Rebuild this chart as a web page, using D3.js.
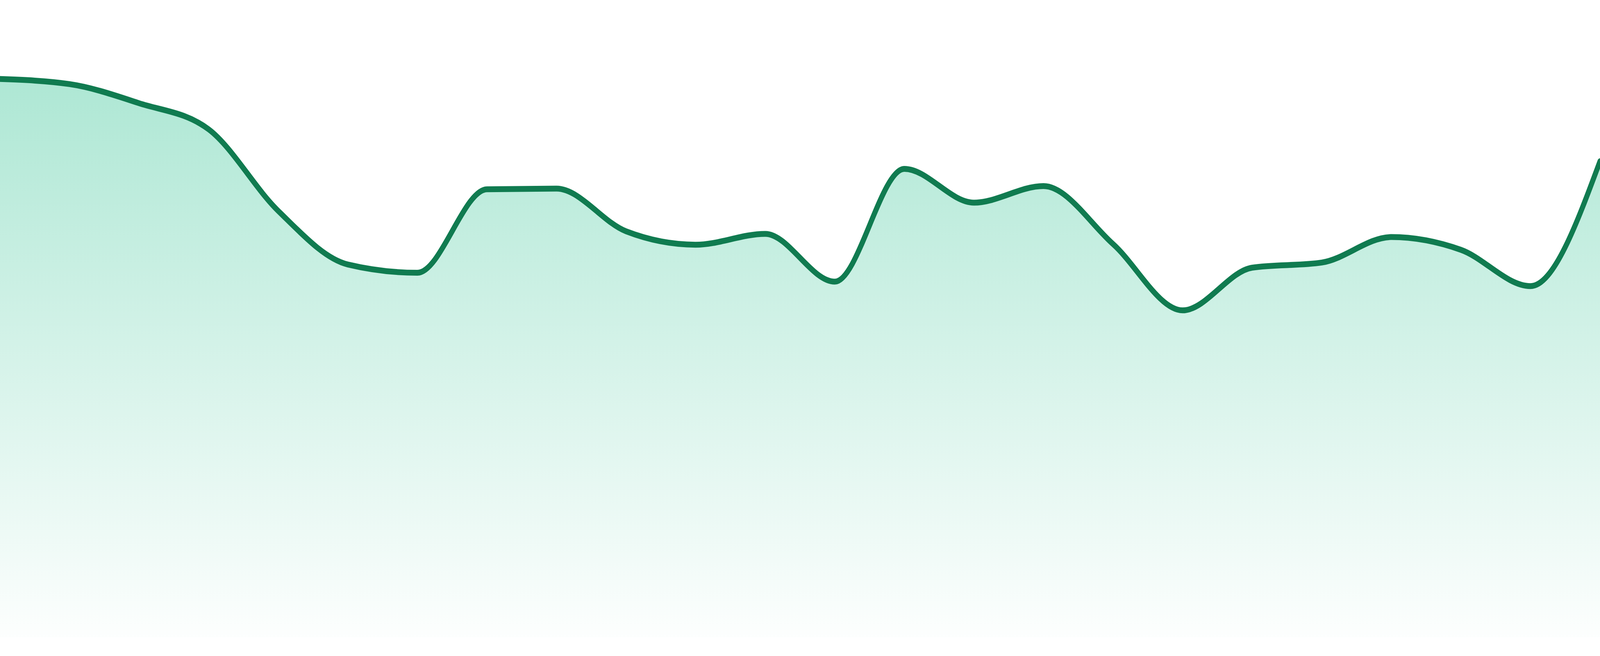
<!DOCTYPE html>
<html>
<head>
<meta charset="utf-8">
<script src="https://cdn.jsdelivr.net/npm/d3@7"></script>
<style>
  html, body { margin: 0; padding: 0; width: 100%; height: 100%; overflow: hidden; background: #fff; }
  svg { display: block; width: 100vw; height: 100vh; }
</style>
</head>
<body>
<svg id="chart"></svg>
<script>
// one reading per step, left to right
const steps = d3.range(24);
const values = [
  87.6, 86.8, 83.8, 79.7, 66.9, 58.5, 57.2, 70.3,
  70.4, 63.7, 61.6, 63.3, 55.8, 73.5, 68.2, 70.8,
  61.7, 51.3, 58.0, 58.8, 62.8, 60.8, 55.1, 74.7
];
const yDomain = [0, 100];

// drawing space, stretched over the whole window
const width = 4800,
      height = 1680;

const svg = d3.select("#chart")
    .attr("viewBox", [0, 0, width, height])
    .attr("preserveAspectRatio", "none");

const margin = { top: 0, right: 0, bottom: 48, left: 0 };

const x = d3.scaleLinear()
    .domain(d3.extent(steps))
    .range([margin.left, width - margin.right]);

const y = d3.scaleLinear()
    .domain(yDomain)
    .range([height - margin.bottom, margin.top]);

const data = steps.map((s, i) => ({ step: s, value: values[i] }));

const grad = svg.append("defs")
  .append("linearGradient")
    .attr("id", "fillGrad")
    .attr("x1", 0).attr("y1", 0)
    .attr("x2", 0).attr("y2", 1);

grad.append("stop")
    .attr("offset", "0%")
    .attr("stop-color", "#10b981")
    .attr("stop-opacity", 0.34);

grad.append("stop")
    .attr("offset", "100%")
    .attr("stop-color", "#10b981")
    .attr("stop-opacity", 0.01);

const area = d3.area()
    .curve(d3.curveMonotoneX)
    .x(d => x(d.step))
    .y0(y(yDomain[0]))
    .y1(d => y(d.value));

const line = d3.line()
    .curve(d3.curveMonotoneX)
    .x(d => x(d.step))
    .y(d => y(d.value));

svg.append("path")
    .datum(data)
    .attr("fill", "url(#fillGrad)")
    .attr("d", area);

svg.append("path")
    .datum(data)
    .attr("fill", "none")
    .attr("stroke", "#107b50")
    .attr("stroke-width", 15)
    .attr("stroke-linejoin", "round")
    .attr("stroke-linecap", "round")
    .attr("d", line);
</script>
</body>
</html>
